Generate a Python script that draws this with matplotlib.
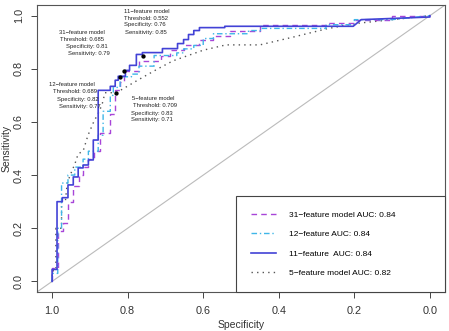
import matplotlib
matplotlib.use("Agg")
import matplotlib.pyplot as plt

plt.rcParams['font.family'] = ['Liberation Sans', 'DejaVu Sans']

# ROC curves (specificity, sensitivity)
spec_31 = [1.0, 1.0, 0.984, 0.984, 0.97, 0.97, 0.958, 0.958, 0.944, 0.944, 0.93, 0.93, 0.918, 0.918,
           0.904, 0.904, 0.89, 0.89, 0.873, 0.873, 0.846, 0.846, 0.833, 0.833, 0.82, 0.82, 0.81, 0.81,
           0.77, 0.77, 0.713, 0.713, 0.687, 0.687, 0.65, 0.65, 0.61, 0.61, 0.575, 0.575, 0.53, 0.53,
           0.45, 0.45, 0.275, 0.275, 0.2, 0.2, 0.1, 0.1, 0.0]
sens_31 = [0.0, 0.05, 0.05, 0.19, 0.19, 0.22, 0.22, 0.30, 0.30, 0.36, 0.36, 0.40, 0.40, 0.43,
           0.43, 0.46, 0.46, 0.49, 0.49, 0.56, 0.56, 0.63, 0.63, 0.72, 0.72, 0.75, 0.75, 0.79,
           0.79, 0.83, 0.83, 0.85, 0.85, 0.87, 0.87, 0.89, 0.89, 0.91, 0.91, 0.925, 0.925, 0.944,
           0.944, 0.966, 0.966, 0.974, 0.974, 0.985, 0.985, 1.0, 1.0]

spec_12 = [1.0, 1.0, 0.985, 0.985, 0.975, 0.975, 0.958, 0.958, 0.94, 0.94, 0.918, 0.918, 0.904, 0.904,
           0.878, 0.878, 0.865, 0.865, 0.846, 0.846, 0.838, 0.838, 0.82, 0.82, 0.79, 0.79, 0.77, 0.77,
           0.73, 0.73, 0.67, 0.67, 0.652, 0.652, 0.625, 0.625, 0.60, 0.60, 0.573, 0.573, 0.48, 0.48,
           0.447, 0.447, 0.275, 0.275, 0.2, 0.2, 0.1, 0.0]
sens_12 = [0.0, 0.03, 0.03, 0.20, 0.20, 0.37, 0.37, 0.40, 0.40, 0.43, 0.43, 0.46, 0.46, 0.49,
           0.49, 0.55, 0.55, 0.64, 0.64, 0.70, 0.70, 0.73, 0.73, 0.77, 0.77, 0.78, 0.78, 0.81,
           0.81, 0.85, 0.85, 0.86, 0.86, 0.875, 0.875, 0.888, 0.888, 0.914, 0.914, 0.932, 0.932, 0.944,
           0.944, 0.952, 0.952, 0.966, 0.966, 0.985, 0.985, 1.0]

spec_11 = [1.0, 1.0, 0.987, 0.987, 0.973, 0.973, 0.958, 0.958, 0.944, 0.944, 0.931, 0.931, 0.918, 0.918,
           0.904, 0.904, 0.891, 0.891, 0.878, 0.878, 0.846, 0.846, 0.833, 0.833, 0.825, 0.825, 0.806, 0.806,
           0.795, 0.795, 0.777, 0.777, 0.761, 0.761, 0.708, 0.708, 0.668, 0.668, 0.652, 0.652, 0.639, 0.639,
           0.625, 0.625, 0.61, 0.61, 0.543, 0.543, 0.203, 0.182, 0.0, 0.0]
sens_11 = [0.0, 0.045, 0.045, 0.30, 0.30, 0.315, 0.315, 0.363, 0.363, 0.393, 0.393, 0.427, 0.427, 0.438,
           0.438, 0.457, 0.457, 0.532, 0.532, 0.719, 0.719, 0.734, 0.734, 0.757, 0.757, 0.772, 0.772, 0.794,
           0.794, 0.813, 0.813, 0.854, 0.854, 0.861, 0.861, 0.876, 0.876, 0.895, 0.895, 0.91, 0.91, 0.929,
           0.929, 0.944, 0.944, 0.955, 0.955, 0.96, 0.96, 0.985, 0.995, 1.0]

spec_5 = [1.0, 1.0, 0.99, 0.99, 0.975, 0.975, 0.965, 0.96, 0.952, 0.939, 0.931, 0.918, 0.905, 0.89,
          0.875, 0.867, 0.86, 0.83, 0.80, 0.77, 0.72, 0.68, 0.64, 0.60, 0.54, 0.45, 0.36, 0.275,
          0.2, 0.1, 0.0]
sens_5 = [0.0, 0.04, 0.04, 0.20, 0.20, 0.30, 0.30, 0.37, 0.40, 0.445, 0.48, 0.49, 0.55, 0.60,
          0.64, 0.67, 0.71, 0.71, 0.735, 0.76, 0.80, 0.83, 0.85, 0.87, 0.89, 0.89, 0.92, 0.95,
          0.97, 0.985, 1.0]

# best thresholds
thr_models = ['31', '12', '11', '5']
thr_value = ['0.685', '0.689', '0.552', '0.709']
thr_spec = [0.81, 0.82, 0.76, 0.83]
thr_sens = [0.79, 0.77, 0.85, 0.71]

legend_labels = ['31\u2212feature model AUC: 0.84', '12\u2212feature AUC: 0.84',
                 '11\u2212feature  AUC: 0.84', '5\u2212feature model AUC: 0.82']

fig = plt.figure(figsize=(4.49, 3.31), dpi=100)
ax = fig.add_axes([0.0824, 0.1178, 0.9087, 0.867])

# chance line
ax.axline((1, 0), (0, 1), color='#bbbbbb', lw=0.8, zorder=1)

l31, = ax.plot(spec_31, sens_31, color='#a845d8', lw=1.0, ls=(0, (4, 3)), zorder=3)
l12, = ax.plot(spec_12, sens_12, color='#3fb6e8', lw=1.0, ls=(0, (4, 2, 1, 2)), zorder=3)
l11, = ax.plot(spec_11, sens_11, color='#4242d6', lw=1.2, zorder=4)
l5, = ax.plot(spec_5, sens_5, color='#555555', lw=1.0, ls=(0, (1, 3)), zorder=2)

ax.plot(thr_spec, thr_sens, 'o', color='black', ms=2.1, zorder=5)

# threshold labels (each line placed like in the original)
txt = {
    '31': [(0.981, 0.936), (0.979, 0.910), (0.963, 0.884), (0.958, 0.858)],
    '12': [(1.008, 0.742), (0.997, 0.715), (0.987, 0.685), (0.981, 0.659)],
    '11': [(0.811, 1.016), (0.811, 0.991), (0.809, 0.965), (0.806, 0.937)],
    '5': [(0.788, 0.689), (0.785, 0.663), (0.790, 0.633), (0.790, 0.610)],
}
for m, v, s, se in zip(thr_models, thr_value, thr_spec, thr_sens):
    lines = [m + '\u2212feature model',
             'Threshold: ' + v,
             'Specificity: %.2f' % s,
             'Sensitivity: %.2f' % se]
    for (x, y), t in zip(txt[m], lines):
        ax.text(x, y, t, fontsize=4.2, ha='left', va='center', color='#222222', zorder=6)

ax.set_xlim(1.04, -0.04)
ax.set_ylim(-0.04, 1.04)
ticks = [0.0, 0.2, 0.4, 0.6, 0.8, 1.0]
ax.set_xticks(ticks)
ax.set_yticks(ticks)
ax.set_xticklabels(['%.1f' % t for t in ticks])
ax.set_yticklabels(['%.1f' % t for t in ticks], rotation=90, va='center')
ax.tick_params(axis='both', direction='out', length=4.3, width=0.7, color='#444444',
               labelsize=7.8, labelcolor='#333333')
ax.tick_params(axis='x', pad=6)
ax.tick_params(axis='y', pad=5)
for sp in ax.spines.values():
    sp.set_color('#555555')
    sp.set_linewidth(0.8)

ax.set_xlabel('Specificity', fontsize=7.5, color='#333333', labelpad=3)
ax.set_ylabel('Sensitivity', fontsize=7.5, color='#333333', labelpad=2)

leg = ax.legend([l31, l12, l11, l5], legend_labels, loc='lower left',
                bbox_to_anchor=(0.488, 0.0, 0.512, 0.324), mode='expand',
                fontsize=6, frameon=True, fancybox=False, framealpha=1,
                edgecolor='#444444', borderpad=1.8, labelspacing=1.4,
                handlelength=3.0, handletextpad=1.5, borderaxespad=0)
leg.get_frame().set_linewidth(0.8)

fig.savefig('out.png', dpi=100)
